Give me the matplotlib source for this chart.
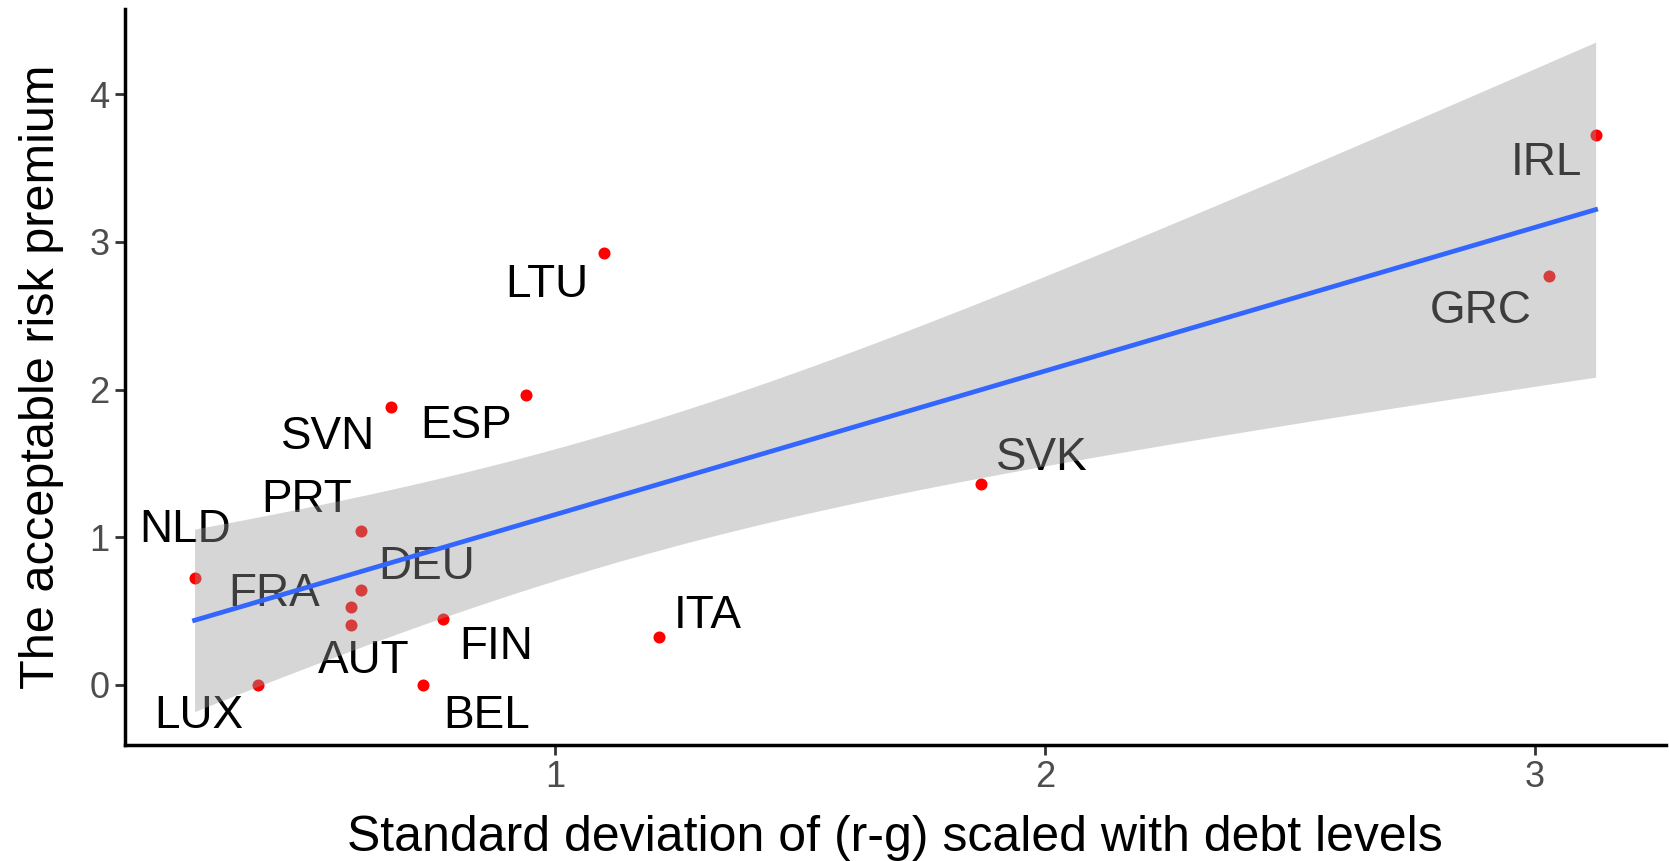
import numpy as np
import matplotlib
matplotlib.use("Agg")
import matplotlib.pyplot as plt

plt.rcParams['font.family'] = ['Liberation Sans', 'DejaVu Sans']

# country codes and values
countries = ["IRL", "GRC", "LTU", "ESP", "SVN", "SVK", "PRT", "NLD",
             "DEU", "FRA", "AUT", "FIN", "ITA", "LUX", "BEL"]
sd_rg = [3.124, 3.028, 1.100, 0.941, 0.665, 1.870, 0.603, 0.264,
         0.603, 0.584, 0.584, 0.772, 1.213, 0.394, 0.731]
risk_premium = [3.726, 2.768, 2.926, 1.960, 1.881, 1.362, 1.043, 0.722,
                0.643, 0.525, 0.406, 0.444, 0.324, 0.0, 0.0]

# label offsets in pixels (repelled labels)
label_offsets = {
    "IRL": (-49, -28), "GRC": (-68, -35), "LTU": (-57, -32), "ESP": (-60, -31),
    "SVN": (-63, -30), "SVK": (60, 26), "PRT": (-54, 31), "NLD": (-9, 48),
    "DEU": (66, 23), "FRA": (-77, 13), "AUT": (12, -36), "FIN": (53, -28),
    "ITA": (48, 21), "LUX": (-59, -31), "BEL": (63, -31),
}

x = np.array(sd_rg)
y = np.array(risk_premium)

# linear fit with 95% confidence band
n = len(x)
slope, intercept = np.polyfit(x, y, 1)
resid = y - (slope * x + intercept)
s = np.sqrt(np.sum(resid ** 2) / (n - 2))
t_crit = 2.160  # t(0.975, df=13)
xs = np.linspace(x.min(), x.max(), 80)
fit = slope * xs + intercept
se = s * np.sqrt(1.0 / n + (xs - x.mean()) ** 2 / np.sum((x - x.mean()) ** 2))
lo, hi = fit - t_crit * se, fit + t_crit * se

fig = plt.figure(figsize=(16.69, 8.61), dpi=100)
ax = fig.add_axes([0.0746, 0.1347, 0.9234, 0.8553])

ax.scatter(x, y, s=75, color="red", zorder=2, linewidths=0)
for name, xi, yi in zip(countries, x, y):
    dx, dy = label_offsets[name]
    ax.annotate(name, (xi, yi), xytext=(dx, dy), textcoords="offset pixels",
                ha="center", va="center", fontsize=33, color="black", zorder=3)

# ribbon sits over the labels, like geom_smooth drawn last
ax.fill_between(xs, lo, hi, color="#999999", alpha=0.4, linewidth=0, zorder=4)
ax.plot(xs, fit, color="#3366FF", linewidth=3.4, zorder=5)

xr = x.max() - x.min()
ax.set_xlim(x.min() - 0.05 * xr, x.max() + 0.05 * xr)
yr = hi.max() - lo.min()
ax.set_ylim(lo.min() - 0.05 * yr, hi.max() + 0.05 * yr)

ax.set_xticks([1, 2, 3])
ax.set_yticks([0, 1, 2, 3, 4])
ax.tick_params(axis="both", labelsize=26, labelcolor="#4D4D4D", color="#333333",
               length=7, width=2, pad=4)
for side in ["top", "right"]:
    ax.spines[side].set_visible(False)
for side in ["left", "bottom"]:
    ax.spines[side].set_linewidth(2.5)
    ax.spines[side].set_color("black")

ax.set_xlabel("Standard deviation of (r-g) scaled with debt levels", fontsize=36, labelpad=14)
ax.set_ylabel("The acceptable risk premium", fontsize=35, labelpad=18)

fig.savefig("out.png", dpi=100)
